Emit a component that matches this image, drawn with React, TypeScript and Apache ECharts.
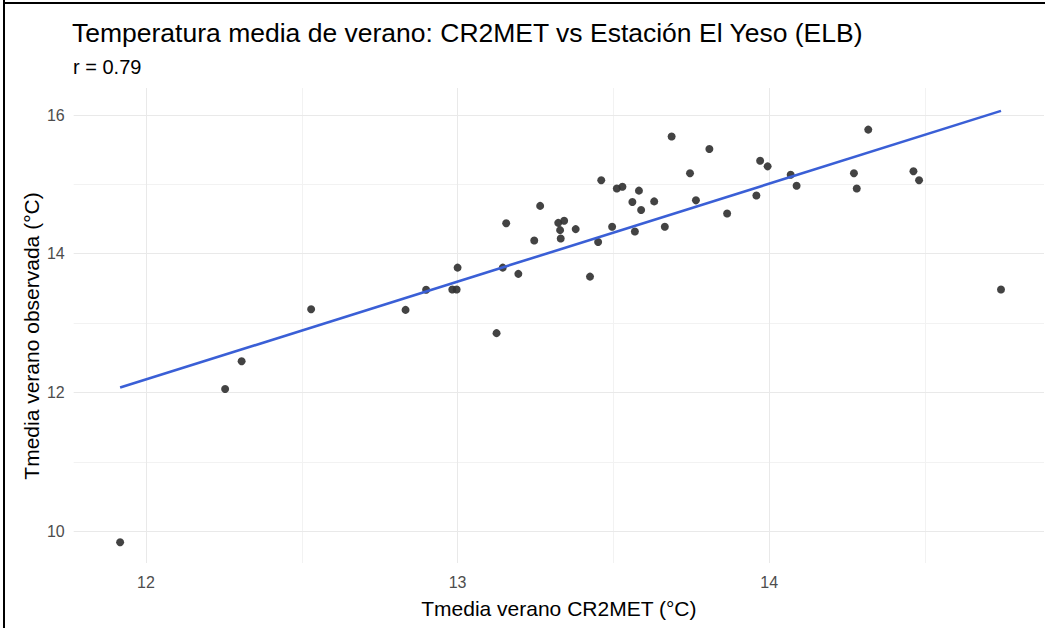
import React, { useEffect, useRef } from "react";
import * as echarts from "echarts";

const cr2metX: number[] = [
  11.917, 12.254, 12.307, 12.53, 12.833, 12.899, 12.983, 12.997, 13.0, 13.125,
  13.145, 13.156, 13.195, 13.246, 13.265, 13.323, 13.342, 13.329, 13.331, 13.379,
  13.425, 13.451, 13.461, 13.496, 13.511, 13.529, 13.561, 13.569, 13.582, 13.589,
  13.631, 13.665, 13.687, 13.746, 13.765, 13.808, 13.865, 13.959, 13.971, 13.995,
  14.069, 14.088, 14.272, 14.281, 14.318, 14.463, 14.481, 14.744,
];
const observedY: number[] = [
  9.84, 12.05, 12.45, 13.2, 13.19, 13.48, 13.485, 13.485, 13.8, 12.855,
  13.8, 14.44, 13.71, 14.19, 14.69, 14.445, 14.475, 14.34, 14.22, 14.355,
  13.67, 14.17, 15.06, 14.39, 14.94, 14.965, 14.745, 14.32, 14.91, 14.63,
  14.755, 14.39, 15.69, 15.16, 14.77, 15.51, 14.58, 14.84, 15.34, 15.26,
  15.14, 14.98, 15.16, 14.94, 15.79, 15.19, 15.06, 13.485,
];
const fitX: number[] = [11.917, 14.744];
const fitY: number[] = [12.07, 16.06];

const xTickLabels: number[] = [12, 13, 14];
const yTickLabels: number[] = [10, 12, 14, 16];
const xMajorGrid: number[] = [12, 13, 14];
const xMinorGrid: number[] = [12.5, 13.5, 14.5];
const yMajorGrid: number[] = [10, 12, 14, 16];
const yMinorGrid: number[] = [11, 13, 15];

const titleText = "Temperatura media de verano: CR2MET vs Estación El Yeso (ELB)";
const subtitleText = "r = 0.79";
const xTitle = "Tmedia verano CR2MET (°C)";
const yTitle = "Tmedia verano observada (°C)";

const FONT = "Liberation Sans, Arial, sans-serif";

export default function App() {
  const ref = useRef<HTMLDivElement>(null);
  useEffect(() => {
    if (!ref.current) return;
    const chart = echarts.init(ref.current, undefined, { renderer: "svg" });
    const gridLine = (color: string) => ({
      silent: true,
      symbol: ["none", "none"],
      label: { show: false },
      animation: false,
      lineStyle: { color, width: 1, type: "solid" },
    });
    chart.setOption({
      animation: false,
      backgroundColor: "#ffffff",
      title: [
        {
          text: titleText,
          left: 72,
          top: 19,
          padding: 0,
          textStyle: { fontFamily: FONT, fontSize: 26.5, fontWeight: "normal", color: "#000000" },
        },
        {
          text: subtitleText,
          left: 73,
          top: 57,
          padding: 0,
          textStyle: { fontFamily: FONT, fontSize: 20, fontWeight: "normal", color: "#000000" },
        },
      ],
      grid: { left: 73.7, right: 1, top: 88, bottom: 65, containLabel: false },
      xAxis: {
        type: "value",
        min: 11.768,
        max: 14.882,
        name: xTitle,
        nameLocation: "middle",
        nameGap: 35,
        nameTextStyle: { fontFamily: FONT, fontSize: 21, color: "#000000" },
        axisLine: { show: false },
        axisTick: { show: false },
        splitLine: { show: false },
        axisLabel: {
          customValues: xTickLabels,
          fontFamily: FONT,
          fontSize: 16,
          color: "#4d4d4d",
          margin: 11,
        },
      },
      yAxis: {
        type: "value",
        min: 9.54,
        max: 16.39,
        axisLine: { show: false },
        axisTick: { show: false },
        splitLine: { show: false },
        axisLabel: {
          customValues: yTickLabels,
          fontFamily: FONT,
          fontSize: 16,
          color: "#4d4d4d",
          margin: 9,
        },
      },
      graphic: [
        { type: "line", shape: { x1: 4, y1: 0, x2: 4, y2: 628 }, style: { stroke: "#000000", lineWidth: 2 } },
        { type: "line", shape: { x1: 4, y1: 3, x2: 1045, y2: 3 }, style: { stroke: "#000000", lineWidth: 2 } },
        {
          type: "text",
          x: 31,
          y: 336,
          rotation: Math.PI / 2,
          style: {
            text: yTitle,
            fontFamily: FONT,
            fontSize: 21,
            fill: "#000000",
            align: "center",
            verticalAlign: "middle",
          },
        },
      ],
      series: [
        {
          type: "scatter",
          data: [],
          z: 1,
          markLine: {
            ...gridLine("#f2f2f2"),
            data: [
              ...xMinorGrid.map((v) => ({ xAxis: v })),
              ...yMinorGrid.map((v) => ({ yAxis: v })),
            ],
          },
        },
        {
          type: "scatter",
          data: [],
          z: 2,
          markLine: {
            ...gridLine("#e9e9e9"),
            data: [
              ...xMajorGrid.map((v) => ({ xAxis: v })),
              ...yMajorGrid.map((v) => ({ yAxis: v })),
            ],
          },
        },
        {
          type: "scatter",
          z: 5,
          symbolSize: 8,
          itemStyle: { color: "#333333", opacity: 0.92 },
          data: cr2metX.map((x, i) => [x, observedY[i]]),
        },
        {
          type: "line",
          z: 6,
          symbol: "none",
          lineStyle: { color: "#3a5fd6", width: 2.6 },
          data: fitX.map((x, i) => [x, fitY[i]]),
        },
      ],
    });
    return () => chart.dispose();
  }, []);
  return (
    <div
      ref={ref}
      style={{ position: "fixed", left: 0, top: 0, width: 1045, height: 628, background: "#fff" }}
    />
  );
}
